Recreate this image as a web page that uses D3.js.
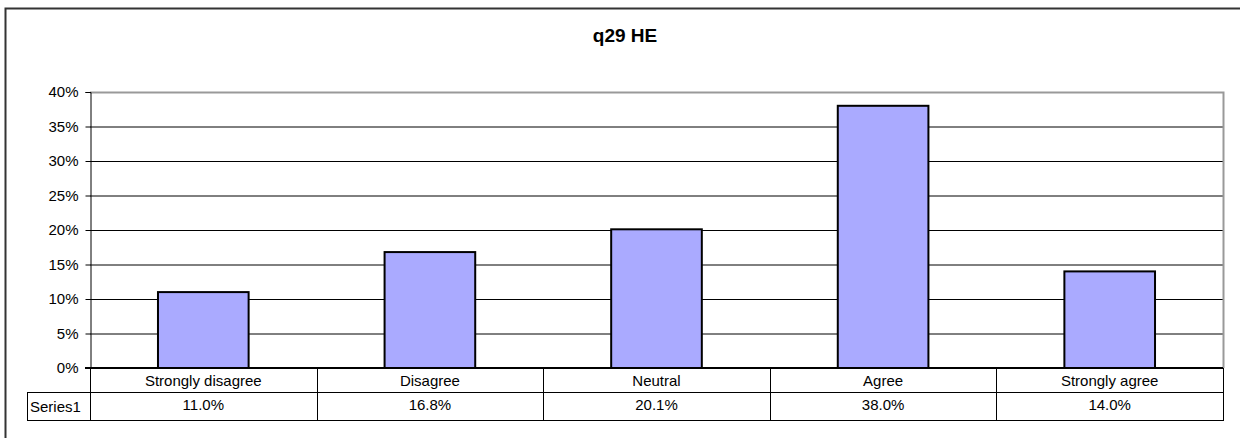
<!DOCTYPE html>
<html>
<head>
<meta charset="utf-8">
<script src="https://cdn.jsdelivr.net/npm/d3@7"></script>
<style>
  body { margin: 0; background: #fff; }
  text { font-family: "Liberation Sans", Arial, sans-serif; fill: #000; }
</style>
</head>
<body>
<div id="chart"></div>
<script>
var categories = ["Strongly disagree", "Disagree", "Neutral", "Agree", "Strongly agree"];
var values = [11.0, 16.8, 20.1, 38.0, 14.0];
var seriesName = "Series1";
var yTicks = [0, 5, 10, 15, 20, 25, 30, 35, 40];
var title = "q29 HE";

var config = {
  "width": 1240,
  "height": 438,
  "left": 90,
  "right": 1223,
  "top": 92,
  "bottom": 368
};

var svg = d3.select("#chart").append("svg")
  .attr("width", config.width)
  .attr("height", config.height);

// outer frame
svg.append("rect")
  .attr("x", 5.5).attr("y", 8.5)
  .attr("width", 1250).attr("height", 440)
  .attr("fill", "none").attr("stroke", "#333").attr("stroke-width", 2);

svg.append("text")
  .attr("x", 625).attr("y", 42)
  .attr("text-anchor", "middle")
  .style("font-size", "19px").style("font-weight", "bold")
  .text(title);

var x = d3.scaleBand().domain(categories).range([config.left, config.right]);
var y = d3.scaleLinear().domain([0, 40]).range([config.bottom, config.top]);

// gridlines
svg.append("g").selectAll("line")
  .data(yTicks.filter(function(d) { return d > 0 && d < 40; }))
  .enter().append("line")
  .attr("x1", config.left).attr("x2", config.right)
  .attr("y1", function(d) { return y(d) + 0.5; })
  .attr("y2", function(d) { return y(d) + 0.5; })
  .attr("stroke", "#000").attr("stroke-width", 1);

// plot area top/right border
svg.append("path")
  .attr("d", "M" + config.left + "," + (config.top + 0.5) + "H" + (config.right + 0.5) + "V" + config.bottom)
  .attr("fill", "none").attr("stroke", "#999").attr("stroke-width", 2);

// y axis
var yAxis = svg.append("g")
  .attr("transform", "translate(" + (config.left + 0.5) + ",0)")
  .call(d3.axisLeft(y).tickValues(yTicks).tickSize(5).tickPadding(7)
    .tickFormat(function(d) { return d + "%"; }));
yAxis.select(".domain").attr("stroke", "#000");
yAxis.selectAll(".tick line").attr("stroke", "#000");
yAxis.selectAll("text").style("font-size", "15px").style("font-family", "Liberation Sans, Arial, sans-serif");

// bars
var barW = x.bandwidth() * 0.4;
svg.append("g").selectAll("rect")
  .data(values)
  .enter().append("rect")
  .attr("x", function(d, i) { return x(categories[i]) + (x.bandwidth() - barW) / 2; })
  .attr("y", function(d) { return y(d); })
  .attr("width", barW)
  .attr("height", function(d) { return y(0) - y(d); })
  .attr("fill", "#aaaaff")
  .attr("stroke", "#000").attr("stroke-width", 2);

// baseline
svg.append("line")
  .attr("x1", config.left - 5).attr("x2", config.right)
  .attr("y1", config.bottom).attr("y2", config.bottom)
  .attr("stroke", "#000").attr("stroke-width", 2);

// data table
var row1 = config.bottom, row2 = 392, row3 = 420, tableLeft = 27;
var t = svg.append("g").attr("fill", "none").attr("stroke", "#000").attr("stroke-width", 1);
t.append("line").attr("x1", tableLeft).attr("x2", config.right + 0.5).attr("y1", row2 + 0.5).attr("y2", row2 + 0.5);
t.append("line").attr("x1", tableLeft).attr("x2", config.right + 0.5).attr("y1", row3 + 0.5).attr("y2", row3 + 0.5);
t.append("line").attr("x1", tableLeft + 0.5).attr("x2", tableLeft + 0.5).attr("y1", row2).attr("y2", row3 + 1);
t.append("line").attr("x1", config.left + 0.5).attr("x2", config.left + 0.5).attr("y1", row1).attr("y2", row3 + 1);
t.selectAll(".sep")
  .data(categories)
  .enter().append("line")
  .attr("x1", function(d) { return Math.round(x(d) + x.bandwidth()) + 0.5; })
  .attr("x2", function(d) { return Math.round(x(d) + x.bandwidth()) + 0.5; })
  .attr("y1", row1).attr("y2", row3 + 1);

svg.append("g").selectAll("text")
  .data(categories)
  .enter().append("text")
  .attr("x", function(d) { return x(d) + x.bandwidth() / 2; })
  .attr("y", row1 + 18)
  .attr("text-anchor", "middle")
  .style("font-size", "15px")
  .text(function(d) { return d; });

svg.append("g").selectAll("text")
  .data(values)
  .enter().append("text")
  .attr("x", function(d, i) { return x(categories[i]) + x.bandwidth() / 2; })
  .attr("y", row2 + 18)
  .attr("text-anchor", "middle")
  .style("font-size", "15px")
  .text(function(d) { return d.toFixed(1) + "%"; });

svg.append("text")
  .attr("x", tableLeft + 3).attr("y", row2 + 20)
  .style("font-size", "15px")
  .text(seriesName);
</script>
</body>
</html>
